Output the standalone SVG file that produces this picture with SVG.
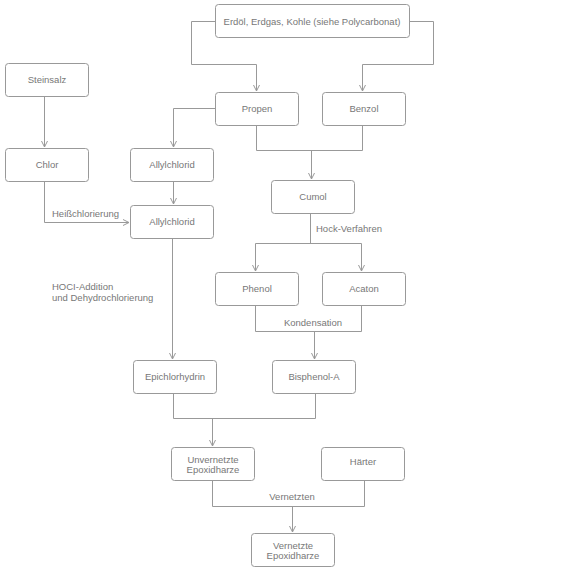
<svg xmlns="http://www.w3.org/2000/svg" width="587" height="570" viewBox="0 0 587 570">
<style>
.box{fill:#fff;stroke:#999;stroke-width:1}
.t{font-family:"Liberation Sans",Arial,sans-serif;font-size:9.5px;fill:#777;text-anchor:middle}
.l{font-family:"Liberation Sans",Arial,sans-serif;font-size:9.5px;fill:#777}
.c{fill:none;stroke:#999;stroke-width:1}
</style>
<defs>
<marker id="a" markerWidth="8" markerHeight="8" refX="7" refY="4" orient="auto" markerUnits="userSpaceOnUse">
<path d="M1,1 L7,4 L1,7" fill="none" stroke="#999" stroke-width="1"/>
</marker>
</defs>
<rect width="587" height="570" fill="#fff"/>
<g id="connectors">
<path class="c" d="M215,21.5 H191.5 V64.5 H256.5 V91" marker-end="url(#a)"/>
<path class="c" d="M409.5,21.5 H433.5 V64.5 H362.5 V91" marker-end="url(#a)"/>
<path class="c" d="M44.5,97 V147" marker-end="url(#a)"/>
<path class="c" d="M215,108.5 H173.5 V147" marker-end="url(#a)"/>
<path class="c" d="M173.5,182 V204" marker-end="url(#a)"/>
<path class="c" d="M44.5,182 V222.5 H129" marker-end="url(#a)"/>
<path class="c" d="M256.5,125 V150.5 H362.5 V125"/>
<path class="c" d="M311.5,150.5 V179" marker-end="url(#a)"/>
<path class="c" d="M310.5,213 V243.5"/>
<path class="c" d="M255.5,243.5 H361.5"/>
<path class="c" d="M255.5,243.5 V271" marker-end="url(#a)"/>
<path class="c" d="M361.5,243.5 V271" marker-end="url(#a)"/>
<path class="c" d="M255.5,305 V331.5 H361.5 V305"/>
<path class="c" d="M314.5,331.5 V359" marker-end="url(#a)"/>
<path class="c" d="M172.5,238 V359" marker-end="url(#a)"/>
<path class="c" d="M173.5,393 V418.5 H315.5 V393"/>
<path class="c" d="M212.5,418.5 V446" marker-end="url(#a)"/>
<path class="c" d="M212.5,481 V506.5 H364.5 V481"/>
<path class="c" d="M292.5,506.5 V532" marker-end="url(#a)"/>
</g>
<g id="labels">
<text class="l" x="52" y="217">Heißchlorierung</text>
<text class="l" x="316" y="232">Hock-Verfahren</text>
<text class="t" x="313" y="326">Kondensation</text>
<text class="l" x="52" y="290">HOCI-Addition</text>
<text class="l" x="52" y="301">und Dehydrochlorierung</text>
<text class="t" x="292" y="500">Vernetzten</text>
</g>
<g id="rohstoffe"><rect class="box" x="215.5" y="4.5" width="194" height="33" rx="3"/><text class="t" x="312" y="24.5">Erdöl, Erdgas, Kohle (siehe Polycarbonat)</text></g>
<g id="propen"><rect class="box" x="215.5" y="92.5" width="83" height="33" rx="3"/><text class="t" x="257" y="112">Propen</text></g>
<g id="benzol"><rect class="box" x="322.5" y="92.5" width="83" height="33" rx="3"/><text class="t" x="364" y="112">Benzol</text></g>
<g id="steinsalz"><rect class="box" x="5.5" y="63.5" width="83" height="33" rx="3"/><text class="t" x="47" y="83">Steinsalz</text></g>
<g id="chlor"><rect class="box" x="5.5" y="148.5" width="83" height="33" rx="3"/><text class="t" x="47" y="168">Chlor</text></g>
<g id="allylchlorid1"><rect class="box" x="130.5" y="148.5" width="83" height="33" rx="3"/><text class="t" x="172" y="168">Allylchlorid</text></g>
<g id="allylchlorid2"><rect class="box" x="130.5" y="205.5" width="83" height="33" rx="3"/><text class="t" x="172" y="225">Allylchlorid</text></g>
<g id="cumol"><rect class="box" x="271.5" y="180.5" width="83" height="33" rx="3"/><text class="t" x="313" y="200">Cumol</text></g>
<g id="phenol"><rect class="box" x="215.5" y="272.5" width="83" height="33" rx="3"/><text class="t" x="257" y="292">Phenol</text></g>
<g id="acaton"><rect class="box" x="322.5" y="272.5" width="83" height="33" rx="3"/><text class="t" x="364" y="292">Acaton</text></g>
<g id="epichlorhydrin"><rect class="box" x="133.5" y="360.5" width="83" height="33" rx="3"/><text class="t" x="175" y="380">Epichlorhydrin</text></g>
<g id="bisphenol"><rect class="box" x="272.5" y="360.5" width="83" height="33" rx="3"/><text class="t" x="314" y="380">Bisphenol-A</text></g>
<g id="unvernetzte"><rect class="box" x="171.5" y="447.5" width="83" height="33" rx="3"/><text class="t" x="213" y="463">Unvernetzte</text><text class="t" x="213" y="473">Epoxidharze</text></g>
<g id="haerter"><rect class="box" x="321.5" y="447.5" width="83" height="33" rx="3"/><text class="t" x="363" y="465">Härter</text></g>
<g id="vernetzte"><rect class="box" x="251.5" y="533.5" width="83" height="33" rx="3"/><text class="t" x="293" y="549">Vernetzte</text><text class="t" x="293" y="559">Epoxidharze</text></g>
</svg>
